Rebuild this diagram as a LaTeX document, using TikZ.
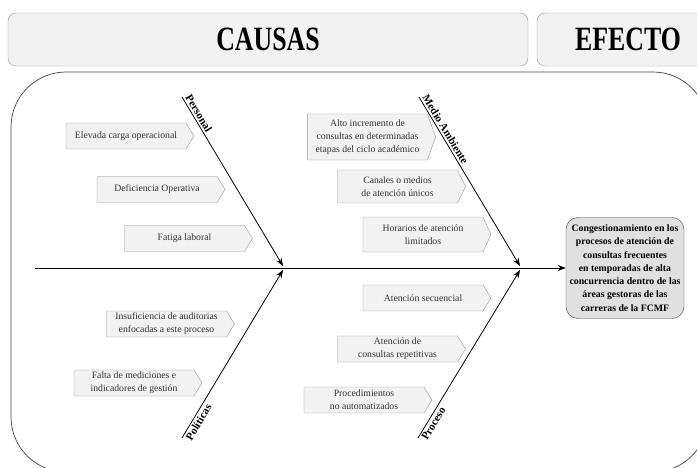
\documentclass[tikz,border=0pt]{standalone}
\usepackage{fontspec}
\setmainfont{Liberation Serif}
\usetikzlibrary{arrows.meta,calc,shapes.symbols}
\definecolor{BoxClr}{rgb}{0.95,0.95,0.95}
\definecolor{EffClr}{rgb}{0.88,0.88,0.88}
\definecolor{EdgeClr}{rgb}{0.6,0.6,0.6}
\definecolor{FrameClr}{rgb}{0.25,0.25,0.25}
\definecolor{TxtClr}{rgb}{0.2,0.2,0.2}
\newcommand{\narrow}[1]{\scalebox{0.76}[1]{#1}}

\begin{document}
\begin{tikzpicture}[x=1pt,y=-1pt,
  header/.style={draw=EdgeClr,fill=BoxClr,rounded corners=8pt,minimum height=53pt,
    font=\bfseries\fontsize{34}{36}\selectfont},
  causa/.style={signal,signal to=east,signal pointer angle=117,draw=EdgeClr,fill=BoxClr,
    minimum width=128pt,minimum height=26pt,inner sep=1pt,align=center,text=TxtClr,
    font=\fontsize{9.7}{13}\selectfont},
  efecto/.style={draw=FrameClr,fill=EffClr,rounded corners=12pt,minimum width=118pt,
    minimum height=101pt,inner sep=1pt,align=center,font=\bfseries\fontsize{9.8}{13.3}\selectfont},
  rib/.style={line width=0.8pt,-{Stealth[length=8pt,width=6pt]}},
  ribname/.style={inner sep=2pt,font=\bfseries\fontsize{11}{12}\selectfont}]

\useasboundingbox (0,0) rectangle (697,468);
\clip (0,0) rectangle (697,468);

\node[header,minimum width=520pt] (causas) at (268,39.5) {\narrow{CAUSAS}};
\node[header,minimum width=182pt] (efectohd) at (628,39.5) {\narrow{EFECTO}};

\draw[FrameClr,line width=0.7pt,rounded corners=55pt] (11,72) rectangle (708,472);

\node[efecto] (efecto) at (625,268) {Congestionamiento en los\\procesos de atención de\\consultas frecuentes\\en temporadas de alta\\concurrencia dentro de las\\áreas gestoras de las\\carreras de la FCMF};

\coordinate (cola) at (35,268);
\coordinate (j1) at (283,268);
\coordinate (j2) at (520,268);
\draw[rib] (cola) -- (efecto.west);

\coordinate (personal) at (182,97);
\coordinate (medio) at (419,97);
\coordinate (politicas) at (182,438);
\coordinate (proceso) at (418,438);

\draw[rib] (personal) -- ($(j1)+(0,-2)$);
\draw[rib] (medio) -- ($(j2)+(0,-2)$);
\draw[rib] (politicas) -- ($(j1)+(0,2)$);
\draw[rib] (proceso) -- ($(j2)+(0,2)$);

\node[ribname,rotate=-59,anchor=south west] (lbpers) at (personal) {Personal};
\node[ribname,rotate=-59,anchor=south west] (lbmedio) at (medio) {Medio Ambiente};
\node[ribname,rotate=59,anchor=north west] (lbpol) at (politicas) {Políticas};
\node[ribname,rotate=59,anchor=north west] (lbproc) at (proceso) {Proceso};

\node[causa] (c1) at (126,136) {Elevada carga operacional};
\node[causa] (c2) at (157,189.5) {Deficiencia Operativa};
\node[causa] (c3) at (184.5,238.5) {Fatiga laboral};

\node[causa,minimum height=46pt,signal pointer angle=141] (c4) at (367.5,137) {Alto incremento de\\consultas en determinadas\\etapas del ciclo académico};
\node[causa,minimum height=33pt,signal pointer angle=128] (c5) at (397.5,186.5) {Canales o medios\\de atención únicos};
\node[causa,minimum height=35pt,signal pointer angle=131] (c6) at (423,234.5) {Horarios de atención\\limitados};

\node[causa] (c7) at (166.5,324) {Insuficiencia de auditorias\\enfocadas a este proceso};
\node[causa] (c8) at (134,383) {Falta de mediciones e\\indicadores de gestión};

\node[causa] (c9) at (423,298) {Atención secuencial};
\node[causa] (c10) at (397.5,349) {Atención de\\consultas repetitivas};
\node[causa] (c11) at (364,400) {Procedimientos\\no automatizados};

\end{tikzpicture}
\end{document}
